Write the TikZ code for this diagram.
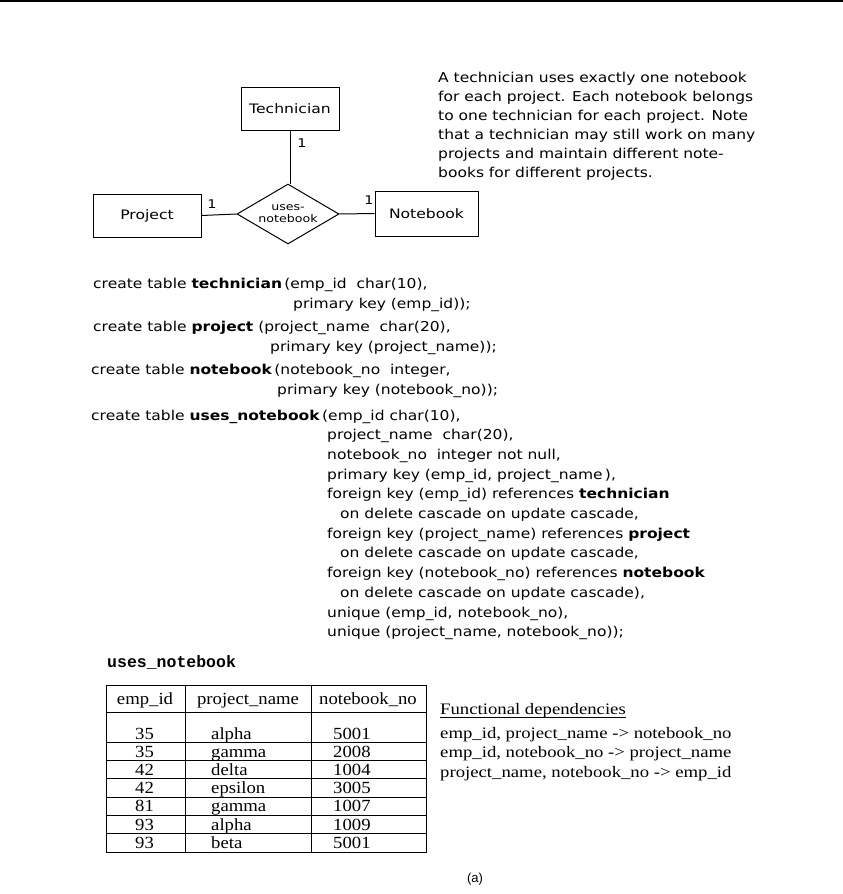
\documentclass[tikz,border=0pt]{standalone}
\usepackage{fontspec}
\setmainfont{Liberation Serif}
\newfontfamily\macfont[FakeStretch=1.14]{DejaVu Sans}
\newfontfamily\ermfont[FakeStretch=1.2]{DejaVu Sans}
\newfontfamily\tabfont[FakeStretch=1.1]{Liberation Serif}
\newfontfamily\fdfont[FakeStretch=1.17]{Liberation Serif}
\newfontfamily\ttbold{Liberation Mono}
\newfontfamily\capfont{Liberation Sans}
\usetikzlibrary{shapes.geometric,positioning}

\begin{document}
\begin{tikzpicture}[x=1pt, y=-1pt,
  ent/.style={draw, line width=1pt, minimum height=43pt, inner sep=0pt,
              font=\ermfont\fontsize{13}{15}\selectfont},
  rel/.style={draw, diamond, aspect=1.7, line width=1pt, minimum width=102pt, minimum height=60pt,
              inner sep=0pt, align=center, font=\ermfont\fontsize{10.5}{12}\selectfont},
  card/.style={inner sep=0pt, font=\ermfont\fontsize{12}{14}\selectfont},
  sql/.style={anchor=base west, inner sep=0pt, font=\macfont\fontsize{13.6}{19.6}\selectfont},
  cell/.style={anchor=base west, inner sep=0pt, font=\tabfont\fontsize{17}{18}\selectfont},
  fd/.style={anchor=base west, inner sep=0pt, font=\fdfont\fontsize{16}{18}\selectfont},
  conn/.style={line width=1pt}
]
\useasboundingbox (0,0) rectangle (843,894);
\draw[line width=2pt] (0,1) -- (843,1);

% E-R diagram
\node[ent, minimum width=98pt] (tech) at (290,108.5) {Technician};
\node[ent, minimum width=108pt] (proj) at (147,215.5) {Project};
\node[ent, minimum width=103pt, minimum height=45pt] (note) at (426.5,213.5) {Notebook};
\node[rel] (uses) at (288,214) {uses-\\notebook};
\draw[conn] (tech.south) -- (tech.south |- uses.north);
\draw[conn] (proj.east) -- (uses.west);
\draw[conn] (uses.east) -- (note.west);
\node[card] (c1) at (302,143) {1};
\node[card] (c2) at (212,204) {1};
\node[card] (c3) at (369,200) {1};

\foreach \ln [count=\k] in {
  {A technician uses exactly one notebook},
  {for each project. Each notebook belongs},
  {to one technician for each project. Note},
  {that a technician may still work on many},
  {projects and maintain different note-},
  {books for different projects.}}
  \node[sql] (remark\k) at (438,{63+19*\k}) {\ln};

% table definitions
\node[sql] (t1) at (93,288) {create table \textbf{technician}\,(emp\_id\ \ char(10),};
\node[sql] (t1k) at (293,308) {primary key (emp\_id));};
\node[sql] (t2) at (93,331) {create table \textbf{project} (project\_name\ \ char(20),};
\node[sql] (t2k) at (270,351) {primary key (project\_name));};
\node[sql] (t3) at (91,374) {create table \textbf{notebook}\,(notebook\_no\ \ integer,};
\node[sql] (t3k) at (277,394) {primary key (notebook\_no));};
\node[sql] (t4) at (91,420) {create table \textbf{uses\_notebook}\,(emp\_id char(10),};
\foreach \ln [count=\k] in {
  {project\_name\ \ char(20),},
  {notebook\_no\ \ integer not null,},
  {primary key (emp\_id, project\_name\,),},
  {foreign key (emp\_id) references \textbf{technician}},
  {\hspace{13pt}on delete cascade on update cascade,},
  {foreign key (project\_name) references \textbf{project}},
  {\hspace{13pt}on delete cascade on update cascade,},
  {foreign key (notebook\_no) references \textbf{notebook}},
  {\hspace{13pt}on delete cascade on update cascade),},
  {unique (emp\_id, notebook\_no),},
  {unique (project\_name, notebook\_no));}}
  \node[sql] (t4l\k) at (327,{420+19.7*\k}) {\ln};

% relation instance
\node[anchor=base west, inner sep=0pt, font=\ttbold\bfseries\fontsize{16.5}{18}\selectfont]
  (tname) at (107,667) {uses\_notebook};
\draw[line width=0.8pt] (106,685) rectangle (426,852);
\draw[line width=0.8pt] (185,685) -- (185,852) (311,685) -- (311,852) (106,712) -- (426,712);
\node[cell, anchor=base] (h1) at (145,704) {emp\_id};
\node[cell, anchor=base] (h2) at (248,704) {project\_name};
\node[cell, anchor=base] (h3) at (368,704) {notebook\_no};
\foreach \id/\pn/\nb [count=\i] in {35/alpha/5001, 35/gamma/2008, 42/delta/1004,
    42/epsilon/3005, 81/gamma/1007, 93/alpha/1009, 93/beta/5001} {
  \node[cell] (r\i a) at (135,{739+18.2*(\i-1)}) {\id};
  \node[cell] (r\i b) at (211,{739+18.2*(\i-1)}) {\pn};
  \node[cell] (r\i c) at (333,{739+18.2*(\i-1)}) {\nb};
  \ifnum\i<7 \draw[line width=0.8pt] (106,{742+18.3*(\i-1)}) -- (426,{742+18.3*(\i-1)}); \fi
}

% functional dependencies
\node[fd] (fdh) at (440,714) {Functional dependencies};
\draw[line width=1pt] ([yshift=-3pt]fdh.base west) -- ([yshift=-3pt]fdh.base east);
\node[fd] (fd1) at (440,738) {emp\_id, project\_name -> notebook\_no};
\node[fd] (fd2) at (440,757) {emp\_id, notebook\_no -> project\_name};
\node[fd] (fd3) at (440,777) {project\_name, notebook\_no -> emp\_id};

\node[font=\capfont\fontsize{13}{15}\selectfont] (cap) at (475,879) {(a)};
\end{tikzpicture}
\end{document}
